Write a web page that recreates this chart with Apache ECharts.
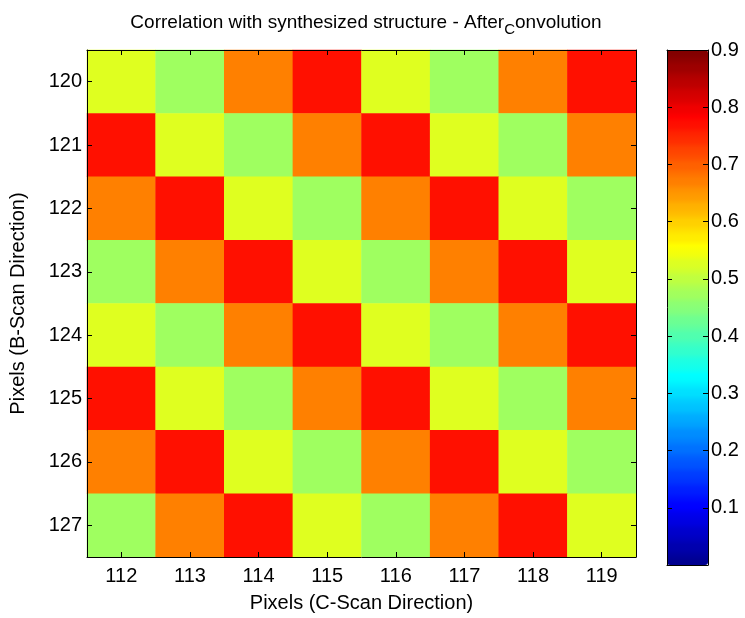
<!DOCTYPE html>
<html>
<head>
<meta charset="utf-8">
<script src="https://cdn.jsdelivr.net/npm/echarts@6/dist/echarts.min.js"></script>
<style>
  html, body { margin: 0; padding: 0; background: #fff; }
  #chart { width: 745px; height: 618px; }
</style>
</head>
<body>
<div id="chart"></div>
<script>
// Column pixels (C-scan) and row pixels (B-scan)
const xPixels = ['112', '113', '114', '115', '116', '117', '118', '119'];
const yPixels = ['120', '121', '122', '123', '124', '125', '126', '127'];

// Correlation values, one row per B-scan pixel (120 at top)
const row120 = [0.53, 0.47, 0.67, 0.77, 0.53, 0.47, 0.67, 0.77];
const row121 = [0.77, 0.53, 0.47, 0.67, 0.77, 0.53, 0.47, 0.67];
const row122 = [0.67, 0.77, 0.53, 0.47, 0.67, 0.77, 0.53, 0.47];
const row123 = [0.47, 0.67, 0.77, 0.53, 0.47, 0.67, 0.77, 0.53];
const row124 = [0.53, 0.47, 0.67, 0.77, 0.53, 0.47, 0.67, 0.77];
const row125 = [0.77, 0.53, 0.47, 0.67, 0.77, 0.53, 0.47, 0.67];
const row126 = [0.67, 0.77, 0.53, 0.47, 0.67, 0.77, 0.53, 0.47];
const row127 = [0.47, 0.67, 0.77, 0.53, 0.47, 0.67, 0.77, 0.53];
const rows = [row120, row121, row122, row123, row124, row125, row126, row127];

// Colour limits and colourbar ticks
const cMin = 0, cMax = 0.9;
const cbarTicks = ['0.1', '0.2', '0.3', '0.4', '0.5', '0.6', '0.7', '0.8', '0.9'];

// 64-level jet colormap
function jet64() {
  const out = [];
  const clamp = v => Math.max(0, Math.min(1, v));
  const hex = v => Math.round(v * 255).toString(16).padStart(2, '0');
  for (let i = 1; i <= 64; i++) {
    const r = clamp(Math.min((i - 24) / 16, 1 - (i - 56) / 16));
    const g = clamp(Math.min((i - 8) / 16, 1 - (i - 40) / 16));
    const b = clamp(Math.min(0.5 + i / 16, 1 - (i - 24) / 16));
    out.push('#' + hex(r) + hex(g) + hex(b));
  }
  return out;
}
// every level is listed twice so the gradient is drawn as flat bands
const jetStops = [];
jet64().forEach(c => { jetStops.push(c, c); });

const cells = [];
rows.forEach((row, yi) => row.forEach((v, xi) => cells.push([xi, yi, v])));

const font = '"Liberation Sans", Arial, sans-serif';
const plot = { left: 87, top: 50, width: 549, height: 514 };
const cbar = { left: 667, top: 50, width: 41, height: 515 };
const tickStyle = { show: true, inside: true, length: 5, lineStyle: { color: '#000', width: 1 } };
const lineStyle = { show: true, onZero: false, lineStyle: { color: '#000', width: 1 } };
const AXIS_Z = 10;

const chart = echarts.init(document.getElementById('chart'));
chart.setOption({
  animation: false,
  backgroundColor: '#fff',
  title: {
    text: '{a|Correlation with synthesized structure - After}{s|C}{a|onvolution}',
    left: 361, top: 3, textAlign: 'center',
    textStyle: {
      fontWeight: 'normal',
      rich: {
        a: { fontFamily: font, fontSize: 19, color: '#000', fontWeight: 'normal' },
        s: { fontFamily: font, fontSize: 15, color: '#000', fontWeight: 'normal', padding: [14, 0, 0, 0] }
      }
    }
  },
  grid: [
    Object.assign({ containLabel: false }, plot),
    Object.assign({ containLabel: false }, cbar)
  ],
  xAxis: [
    {
      type: 'category', data: xPixels, gridIndex: 0, position: 'bottom', z: AXIS_Z,
      axisLine: lineStyle, axisTick: Object.assign({ alignWithLabel: true }, tickStyle),
      axisLabel: { fontFamily: font, fontSize: 20, color: '#000', margin: 9 },
      name: 'Pixels (C-Scan Direction)', nameLocation: 'middle', nameGap: 36,
      nameTextStyle: { fontFamily: font, fontSize: 20, color: '#000' },
      splitLine: { show: false }
    },
    {
      type: 'category', data: xPixels, gridIndex: 0, position: 'top', z: AXIS_Z,
      axisLine: lineStyle, axisTick: Object.assign({ alignWithLabel: true }, tickStyle),
      axisLabel: { show: false }, splitLine: { show: false }
    },
    {
      type: 'value', gridIndex: 1, min: 0, max: 1, position: 'bottom', z: AXIS_Z,
      axisLine: lineStyle, axisTick: { show: false }, axisLabel: { show: false }, splitLine: { show: false }
    },
    {
      type: 'value', gridIndex: 1, min: 0, max: 1, position: 'top', z: AXIS_Z,
      axisLine: lineStyle, axisTick: { show: false }, axisLabel: { show: false }, splitLine: { show: false }
    }
  ],
  yAxis: [
    {
      type: 'category', data: yPixels, inverse: true, gridIndex: 0, position: 'left', z: AXIS_Z,
      axisLine: lineStyle, axisTick: Object.assign({ alignWithLabel: true }, tickStyle),
      axisLabel: { fontFamily: font, fontSize: 20, color: '#000', margin: 5 },
      name: 'Pixels (B-Scan Direction)', nameLocation: 'middle', nameGap: 59,
      nameTextStyle: { fontFamily: font, fontSize: 20, color: '#000' },
      splitLine: { show: false }
    },
    {
      type: 'category', data: yPixels, inverse: true, gridIndex: 0, position: 'right', z: AXIS_Z,
      axisLine: lineStyle, axisTick: Object.assign({ alignWithLabel: true }, tickStyle),
      axisLabel: { show: false }, splitLine: { show: false }
    },
    {
      type: 'value', gridIndex: 1, min: cMin, max: cMax, interval: 0.1, position: 'right', z: AXIS_Z,
      axisLine: lineStyle, axisTick: tickStyle,
      axisLabel: {
        fontFamily: font, fontSize: 20, color: '#000', margin: 3,
        formatter: v => { const s = v.toFixed(1); return cbarTicks.includes(s) ? s : ''; }
      },
      splitLine: { show: false }
    },
    {
      type: 'value', gridIndex: 1, min: cMin, max: cMax, interval: 0.1, position: 'left', z: AXIS_Z,
      axisLine: lineStyle, axisTick: tickStyle, axisLabel: { show: false }, splitLine: { show: false }
    }
  ],
  visualMap: {
    type: 'continuous', min: cMin, max: cMax, seriesIndex: 0, z: 1,
    calculable: false, realtime: false, hoverLink: false,
    left: cbar.left, top: cbar.top, itemWidth: cbar.width, itemHeight: cbar.height,
    padding: 0, text: null, showLabel: false,
    inRange: { color: jetStops }
  },
  series: [{
    type: 'heatmap', xAxisIndex: 0, yAxisIndex: 0, data: cells,
    itemStyle: { borderWidth: 0 }, emphasis: { disabled: true }
  }]
});
</script>
</body>
</html>
